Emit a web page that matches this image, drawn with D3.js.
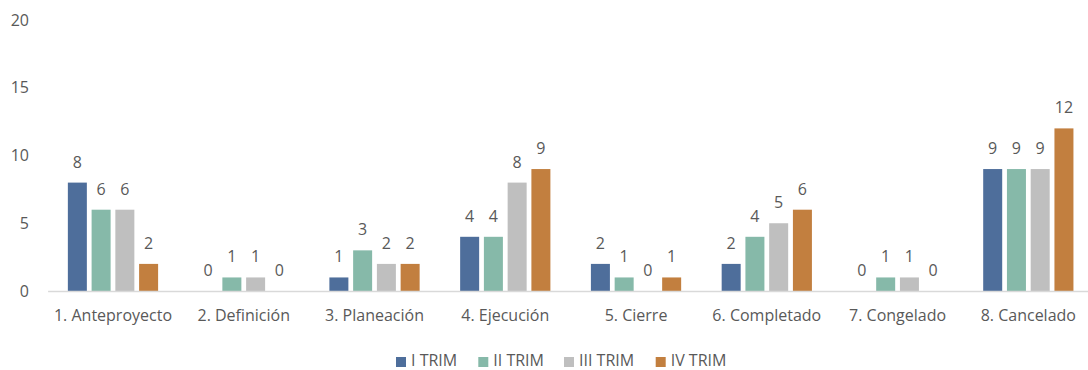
<!DOCTYPE html>
<html><head><meta charset="utf-8">
<script src="https://cdn.jsdelivr.net/npm/d3@7"></script>
<style>
html,body{margin:0;padding:0;background:#fff;}
text{font-family:"Open Sans","Lato",sans-serif;fill:#595959;}
</style></head>
<body><svg id="c" width="1088" height="370"></svg>
<script>
const categories = ["1. Anteproyecto","2. Definición","3. Planeación","4. Ejecución","5. Cierre","6. Completado","7. Congelado","8. Cancelado"];
const seriesNames = ["I TRIM","II TRIM","III TRIM","IV TRIM"];
const trim1 = [8,0,1,4,2,2,0,9];
const trim2 = [6,1,3,4,1,4,1,9];
const trim3 = [6,1,2,8,0,5,1,9];
const trim4 = [2,0,2,9,1,6,0,12];
const yTicks = [0,5,10,15,20];
const colors = ["#4E6E9B","#86B9A9","#BFBFBF","#C27F3F"];

const seriesVals = [trim1,trim2,trim3,trim4];
const FS = "16px";
const svg = d3.select("#c");
const y = d3.scaleLinear().domain([0,20]).range([291,20]);
const x0 = d3.scaleBand().domain(categories).range([47.6,1093.7]);
const x1 = d3.scaleBand().domain(seriesNames).range([0,95]).paddingInner(0.2).paddingOuter(0.1);

// y axis labels
const yAxis = d3.axisLeft(y).tickValues(yTicks).tickSize(0).tickPadding(0);
const ya = svg.append("g").attr("transform","translate(29,0)").call(yAxis);
ya.select(".domain").remove();
ya.selectAll("text").attr("font-size",FS).attr("fill","#595959").style("font-family",'"Open Sans","Lato",sans-serif');

// bars
categories.forEach((c,ci)=>{
  const g = svg.append("g").attr("transform",`translate(${x0(c)+x0.bandwidth()/2-47.5},0)`);
  seriesNames.forEach((s,si)=>{
    const v = seriesVals[si][ci];
    if(v>0){
      g.append("rect").attr("x",x1(s)).attr("width",x1.bandwidth())
        .attr("y",y(v)).attr("height",y(0)-y(v)).attr("fill",colors[si]);
    }
    g.append("text").attr("x",x1(s)+x1.bandwidth()/2).attr("y",y(v)-15)
      .attr("text-anchor","middle").attr("font-size",FS).text(v);
  });
});

// x axis
const xAxis = d3.axisBottom(x0).tickSize(0).tickPadding(0);
const xa = svg.append("g").attr("transform",`translate(0,${y(0)})`).call(xAxis);
xa.select(".domain").attr("stroke","#D9D9D9").attr("stroke-width",1.5);
xa.selectAll("text").attr("font-size",FS).attr("fill","#595959").attr("dy",null).attr("y",30)
  .style("font-family",'"Open Sans","Lato",sans-serif');

// legend
const legX = [396,478.3,564,655.7];
const leg = svg.append("g");
seriesNames.forEach((s,i)=>{
  leg.append("rect").attr("x",legX[i]).attr("y",357).attr("width",10).attr("height",10).attr("fill",colors[i]);
  leg.append("text").attr("x",legX[i]+15).attr("y",365.5).attr("font-size",FS).text(s);
});
</script></body></html>
